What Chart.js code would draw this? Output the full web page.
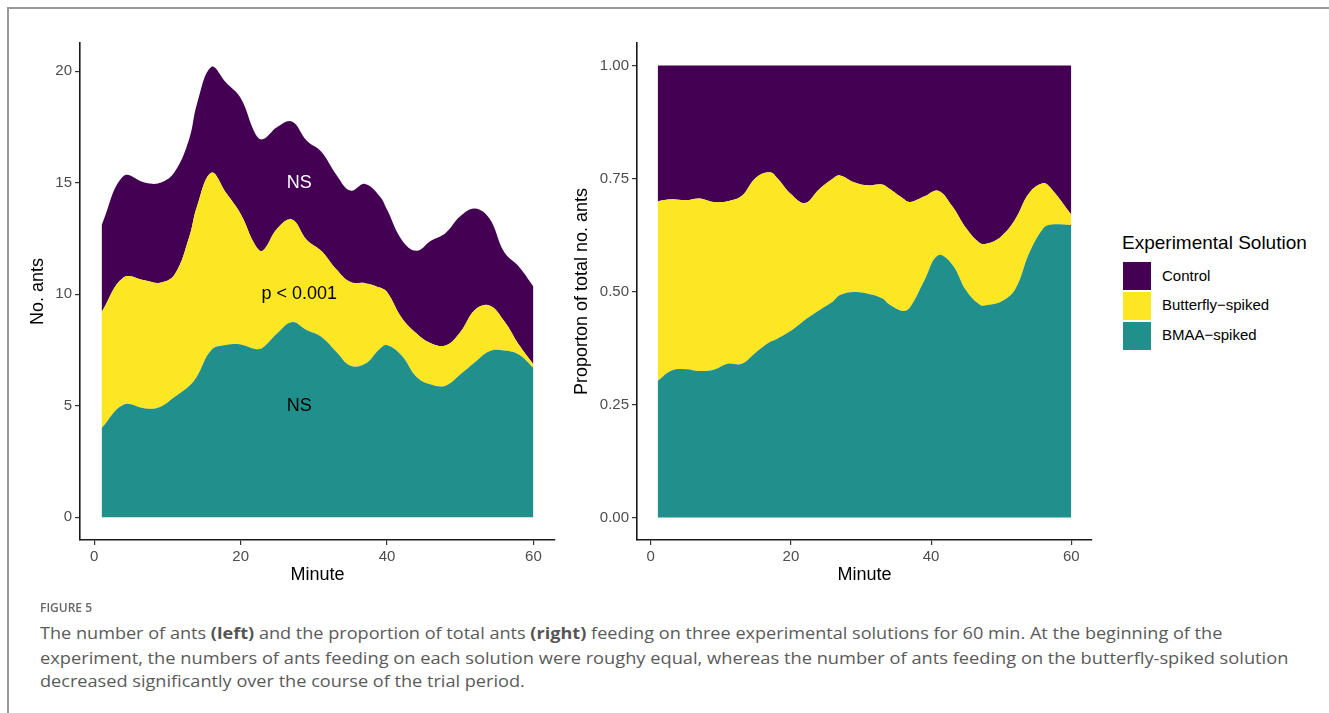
<!DOCTYPE html>
<html>
<head>
<meta charset="utf-8">
<script src="https://cdn.jsdelivr.net/npm/chart.js@4.4.1/dist/chart.umd.min.js"></script>
<style>
  html, body { margin: 0; padding: 0; background: #fff; }
  body { width: 1329px; height: 713px; position: relative; overflow: hidden; font-family: "Liberation Sans", Arial, sans-serif; }
  .frame { position: absolute; left: 7px; top: 7px; width: 1400px; height: 800px; border-left: 2px solid #9a9a9a; border-top: 2px solid #9a9a9a; }
  .panel { position: absolute; top: 0; height: 600px; }
  #countPanel { left: 0; width: 570px; }
  #propPanel { left: 560px; width: 560px; }
  .legend-title { position: absolute; left: 1122px; top: 231px; font-size: 19px; line-height: 24px; color: #000; white-space: nowrap; }
  .key { position: absolute; left: 1123px; width: 28px; height: 28px; }
  .key-label { position: absolute; left: 1162px; font-size: 15px; line-height: 20px; color: #000; white-space: nowrap; }
  .fig-label { position: absolute; left: 40px; top: 600px; font-family: "Open Sans", sans-serif; font-size: 12px; font-weight: 600; color: #666; line-height: 16px; }
  .caption { position: absolute; left: 40px; font-family: "Open Sans", sans-serif; font-size: 16px; color: #5a5a5a; line-height: 22px; white-space: nowrap; transform-origin: 0 50%; }
  .caption b { font-weight: 700; color: #555; }
</style>
</head>
<body>
<div class="frame"></div>
<div class="panel" id="countPanel"><canvas id="countChart"></canvas></div>
<div class="panel" id="propPanel"><canvas id="propChart"></canvas></div>

<div class="legend-title">Experimental Solution</div>
<div class="key" style="top:262px;background:#440154"></div>
<div class="key" style="top:292px;background:#FDE725"></div>
<div class="key" style="top:322px;background:#21908C"></div>
<div class="key-label" style="top:266px">Control</div>
<div class="key-label" style="top:295px">Butterfly−spiked</div>
<div class="key-label" style="top:325px">BMAA−spiked</div>

<div class="fig-label">FIGURE 5</div>
<div class="caption" style="top:622px" data-width="1182">The number of ants <b>(left)</b> and the proportion of total ants <b>(right)</b> feeding on three experimental solutions for 60 min. At the beginning of the</div>
<div class="caption" style="top:647px" data-width="1248">experiment, the numbers of ants feeding on each solution were roughy equal, whereas the number of ants feeding on the butterfly-spiked solution</div>
<div class="caption" style="top:670px" data-width="485">decreased significantly over the course of the trial period.</div>

<script>
// number of ants per solution
const minutes = [1, 4, 7, 9, 11, 13, 14, 16, 18, 20, 22, 23, 25, 27, 29, 31, 33, 35, 37, 39, 40, 42, 44, 46, 48, 50, 52, 54, 56, 58, 60]
const bmaaCounts = [4.0, 5.05, 4.88, 4.95, 5.4, 5.9, 6.3, 7.5, 7.72, 7.75, 7.55, 7.6, 8.25, 8.75, 8.4, 8.1, 7.45, 6.8, 6.88, 7.55, 7.72, 7.25, 6.3, 5.95, 5.9, 6.4, 6.95, 7.45, 7.48, 7.3, 6.7]
const butterflyCounts = [5.2, 5.7, 5.74, 5.57, 5.5, 6.7, 7.6, 7.95, 6.83, 5.85, 4.65, 4.35, 4.7, 4.6, 4.05, 3.85, 3.7, 3.75, 3.62, 2.75, 2.38, 1.7, 1.95, 1.85, 1.8, 1.9, 2.35, 2.05, 1.32, 0.45, 0.16]
const controlCounts = [3.9, 4.55, 4.38, 4.48, 4.6, 4.4, 4.6, 4.75, 4.95, 5.2, 5.0, 5.0, 4.55, 4.4, 4.45, 4.45, 4.25, 4.1, 4.45, 4.1, 3.7, 3.5, 3.7, 4.6, 5.05, 5.2, 4.55, 3.9, 3.1, 3.5, 3.49]

// proportion of total ants
const propMinutes = [1, 3, 5, 7, 9, 11, 13, 15, 17, 18, 20, 22, 24, 26, 27, 29, 31, 33, 34, 36, 37, 39, 41, 43, 45, 47, 48, 50, 52, 54, 56, 57, 60]
const bmaaProp = [0.302, 0.325, 0.328, 0.324, 0.327, 0.34, 0.34, 0.365, 0.388, 0.395, 0.413, 0.437, 0.458, 0.478, 0.492, 0.499, 0.495, 0.485, 0.472, 0.457, 0.465, 0.523, 0.58, 0.56, 0.502, 0.47, 0.47, 0.478, 0.505, 0.585, 0.64, 0.648, 0.647]
const butterflyProp = [0.398, 0.379, 0.374, 0.382, 0.371, 0.36, 0.372, 0.387, 0.376, 0.357, 0.303, 0.259, 0.268, 0.272, 0.265, 0.243, 0.24, 0.252, 0.256, 0.249, 0.233, 0.187, 0.143, 0.129, 0.138, 0.137, 0.136, 0.144, 0.155, 0.133, 0.1, 0.082, 0.023]
const controlProp = [0.3, 0.296, 0.298, 0.294, 0.302, 0.3, 0.288, 0.248, 0.236, 0.248, 0.284, 0.304, 0.274, 0.25, 0.243, 0.258, 0.265, 0.263, 0.272, 0.294, 0.302, 0.29, 0.277, 0.311, 0.36, 0.393, 0.394, 0.378, 0.34, 0.282, 0.26, 0.27, 0.33]

const minuteTicks = [0, 20, 40, 60]
const countTicks = [0, 5, 10, 15, 20]
const propTicks = [0, 0.25, 0.5, 0.75, 1]

const statLabels = [
  { text: "NS", minute: 28, value: 15, color: "#ffffff" },
  { text: "p < 0.001", minute: 28, value: 10, color: "#000000" },
  { text: "NS", minute: 28, value: 5, color: "#000000" }
]

const colors = { control: "#440154", butterfly: "#FDE725", bmaa: "#21908C" }
const FONT = "'Liberation Sans', Arial, sans-serif"

function points(xs, ys) {
  return xs.map((x, i) => ({ x: x, y: ys[i] }))
}

function areaDataset(label, xs, ys, color, fill) {
  return {
    label: label,
    data: points(xs, ys),
    backgroundColor: color,
    borderColor: color,
    borderWidth: 0,
    pointRadius: 0,
    fill: fill,
    tension: 0.4
  }
}

const statText = {
  id: "statText",
  afterDatasetsDraw(chart) {
    if (!chart.options.plugins.statText.show) return
    const { ctx, scales } = chart
    ctx.save()
    ctx.font = "18px " + FONT
    ctx.textAlign = "center"
    ctx.textBaseline = "middle"
    statLabels.forEach(l => {
      ctx.fillStyle = l.color
      ctx.fillText(l.text, scales.x.getPixelForValue(l.minute), scales.y.getPixelForValue(l.value))
    })
    ctx.restore()
  }
}

function axisCommon(tickValues, fmt, size, title, titlePadding) {
  return {
    type: "linear",
    afterBuildTicks: s => { s.ticks = tickValues.map(v => ({ value: v })) },
    border: { display: true, color: "#1a1a1a", width: 1.6 },
    grid: { drawOnChartArea: false, drawTicks: true, tickLength: 5, tickColor: "#333", lineWidth: 1.2 },
    ticks: { color: "#4d4d4d", font: { family: FONT, size: 15 }, padding: 3, callback: fmt, maxRotation: 0, autoSkip: false },
    title: { display: true, text: title, color: "#000", font: { family: FONT, size: 18 }, padding: titlePadding },
    afterFit: s => { if (s.isHorizontal()) s.height = size; else s.width = size }
  }
}

function makeChart(id, datasets, yMin, yMax, yTicks, yFmt, yWidth, yTitle, yTitlePad, padRight, showStats) {
  new Chart(document.getElementById(id), {
    type: "line",
    data: { datasets: datasets },
    options: {
      responsive: true,
      maintainAspectRatio: false,
      animation: false,
      events: [],
      layout: { padding: { top: 43, left: 0, right: padRight, bottom: 10 } },
      plugins: { legend: { display: false }, tooltip: { enabled: false }, statText: { show: showStats } },
      scales: {
        x: Object.assign(axisCommon(minuteTicks, v => v, 50, "Minute", { top: 0, bottom: 4 }), { min: -1.95, max: 62.95 }),
        y: Object.assign(axisCommon(yTicks, yFmt, yWidth, yTitle, { top: yTitlePad, bottom: 0 }), { min: yMin, max: yMax, stacked: true })
      }
    },
    plugins: [statText]
  })
}

makeChart("countChart", [
  areaDataset("BMAA-spiked", minutes, bmaaCounts, colors.bmaa, "origin"),
  areaDataset("Butterfly-spiked", minutes, butterflyCounts, colors.butterfly, "-1"),
  areaDataset("Control", minutes, controlCounts, colors.control, "-1")
], -1.02, 21.27, countTicks, v => v, 80, "No. ants", 27, 15, true)

makeChart("propChart", [
  areaDataset("BMAA-spiked", propMinutes, bmaaProp, colors.bmaa, "origin"),
  areaDataset("Butterfly-spiked", propMinutes, butterflyProp, colors.butterfly, "-1"),
  areaDataset("Control", propMinutes, controlProp, colors.control, "-1")
], -0.05, 1.05, propTicks, v => v.toFixed(2), 77, "Proporton of total no. ants", 11, 28, false)

// fit caption lines to the widths of the original layout
document.querySelectorAll(".caption").forEach(el => {
  const target = +el.dataset.width
  el.style.transform = "scaleX(" + (target / el.offsetWidth) + ")"
})
</script>
</body>
</html>
